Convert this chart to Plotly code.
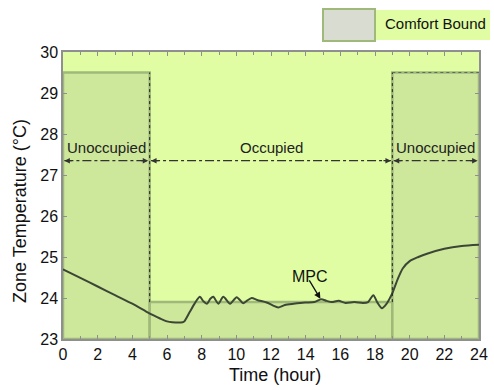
import plotly.graph_objects as go

# ---- data ----
time_h = [0, 1, 2, 3, 4, 4.8, 5.2, 5.6, 6.0, 6.3, 6.9, 7.0, 7.3, 7.6, 7.9,
          8.1, 8.3, 8.5, 8.67, 8.96, 9.25, 9.64, 10.02, 10.4, 10.6, 10.89,
          11.2, 11.75, 12.1, 12.42, 12.8, 13.3, 13.96, 14.5, 14.9, 15.2,
          15.5, 15.9, 16.3, 16.8, 17.3, 17.6, 17.9, 18.15, 18.4, 18.65,
          19.0, 19.3, 19.6, 20.0, 20.5, 21.0, 22.0, 23.0, 24.0]
temp_mpc = [24.70, 24.49, 24.28, 24.07, 23.86, 23.67, 23.58, 23.50, 23.43,
            23.41, 23.41, 23.43, 23.65, 23.87, 24.03,
            23.92, 23.86, 23.98, 24.03, 23.86, 24.03, 23.86, 24.02, 23.87,
            23.93, 24.00, 23.95, 23.89, 23.82, 23.77, 23.83, 23.86, 23.89,
            23.90, 23.97, 23.93, 23.90, 23.93, 23.88, 23.90, 23.88, 23.90,
            24.07, 23.88, 23.75, 23.85, 24.12, 24.45, 24.72, 24.90, 25.00,
            25.08, 25.20, 25.27, 25.30]

# comfort bound: (start hour, end hour, lower, upper)
bound_start = [0, 5, 19]
bound_end = [5, 19, 24]
bound_low = [23, 23, 23]
bound_high = [29.5, 23.9, 29.5]

# occupancy periods
period_start = [0, 5, 19]
period_end = [5, 19, 24]
period_label = ["Unoccupied", "Occupied", "Unoccupied"]
period_arrow_y = 27.35
period_text_y = 27.68

x_ticks = list(range(0, 25, 2))
y_ticks = list(range(23, 31))

PLOT_BG = "#e0fda3"
BOUND_FILL = "#cde79b"
BOUND_EDGE = "#9fb97a"
LINE_COL = "#3c4636"
FONT = "Liberation Sans, Arial, sans-serif"

fig = go.Figure()

shapes = []
for s, e, lo, hi in zip(bound_start, bound_end, bound_low, bound_high):
    shapes.append(dict(type="rect", xref="x", yref="y", x0=s, x1=e, y0=lo, y1=hi,
                       fillcolor=BOUND_FILL, line=dict(color=BOUND_EDGE, width=2.5),
                       layer="below"))
# dotted boundaries of the occupied period
shapes.append(dict(type="line", xref="x", yref="y", x0=5, x1=5, y0=bound_high[1], y1=bound_high[0],
                   line=dict(color="#222222", width=1, dash="dot")))
shapes.append(dict(type="line", xref="x", yref="y", x0=19, x1=19, y0=bound_high[1], y1=bound_high[2],
                   line=dict(color="#222222", width=1, dash="dot")))
shapes.append(dict(type="line", xref="x", yref="y", x0=19, x1=24, y0=bound_high[2], y1=bound_high[2],
                   line=dict(color="#666666", width=1, dash="dot")))

# MPC trace
fig.add_trace(go.Scatter(x=time_h, y=temp_mpc, mode="lines",
                         line=dict(color=LINE_COL, width=2, shape="spline", smoothing=0.7),
                         showlegend=False, hoverinfo="skip"))

annotations = []
# period arrows (dash-dot line + arrow heads)
for s, e, lab in zip(period_start, period_end, period_label):
    a0 = s + 0.08
    a1 = e - 0.08
    fig.add_trace(go.Scatter(x=[a0, a1], y=[period_arrow_y, period_arrow_y], mode="lines",
                             line=dict(color="#333333", width=1.2, dash="dashdot"),
                             showlegend=False, hoverinfo="skip"))
    annotations.append(dict(x=a1, y=period_arrow_y, ax=-9, ay=0, xref="x", yref="y",
                            text="", showarrow=True,
                            arrowhead=2, arrowsize=1, arrowwidth=1.1, arrowcolor="#333333"))
    annotations.append(dict(x=a0, y=period_arrow_y, ax=9, ay=0, xref="x", yref="y",
                            text="", showarrow=True,
                            arrowhead=2, arrowsize=1, arrowwidth=1.1, arrowcolor="#333333"))
    annotations.append(dict(x=(s + e) / 2, y=period_text_y, xref="x", yref="y", text=lab,
                            showarrow=False, xanchor="center", yanchor="middle",
                            font=dict(family=FONT, size=15, color="#222222")))

# MPC label
annotations.append(dict(x=14.85, y=23.98, xref="x", yref="y", ax=-12, ay=-20,
                        text="", showarrow=True, arrowhead=2, arrowsize=1,
                        arrowwidth=1.3, arrowcolor="#111111"))
annotations.append(dict(x=14.25, y=24.53, xref="x", yref="y", text="MPC", showarrow=False,
                        xanchor="center", yanchor="middle",
                        font=dict(family=FONT, size=16, color="#111111")))

# axis titles
annotations.append(dict(x=(275 - 63) / 416, y=(339 - 375) / 287, xref="paper", yref="paper",
                        text="Time (hour)", showarrow=False, xanchor="center", yanchor="middle",
                        font=dict(family=FONT, size=18, color="#111111")))
annotations.append(dict(x=(20 - 63) / 416, y=(339 - 211) / 287, xref="paper", yref="paper",
                        text="Zone Temperature (\u00b0C)", showarrow=False, textangle=-90,
                        xanchor="center", yanchor="middle",
                        font=dict(family=FONT, size=18, color="#111111")))

# legend (drawn box)
shapes.append(dict(type="rect", xref="paper", yref="paper",
                   x0=(375 - 63) / 416, x1=(490 - 63) / 416,
                   y0=(339 - 40) / 287, y1=(339 - 10) / 287,
                   fillcolor=PLOT_BG, line=dict(width=0)))
shapes.append(dict(type="rect", xref="paper", yref="paper",
                   x0=(323 - 63) / 416, x1=(375 - 63) / 416,
                   y0=(339 - 41) / 287, y1=(339 - 9) / 287,
                   fillcolor="#d9dcd0", line=dict(color=BOUND_EDGE, width=2)))
annotations.append(dict(x=(383 - 63) / 416, y=(339 - 24) / 287, xref="paper", yref="paper",
                        xanchor="left", yanchor="middle", text="Comfort Bound", showarrow=False,
                        font=dict(family=FONT, size=15, color="#111111")))

axis_common = dict(showgrid=False, zeroline=False, showline=True, linecolor="#8f8f8f",
                   linewidth=1.5, mirror="ticks", ticks="inside", ticklen=4,
                   automargin=False,
                   tickcolor="#8f8f8f", tickfont=dict(family=FONT, size=16, color="#111111"))

fig.update_layout(
    width=494, height=390,
    margin=dict(l=63, r=15, t=52, b=51),
    paper_bgcolor="white", plot_bgcolor=PLOT_BG,
    xaxis=dict(range=[0, 24], tickvals=x_ticks, ticktext=[str(v) for v in x_ticks],
               minor=dict(dtick=1, ticks="inside", ticklen=3, tickcolor="#8f8f8f"),
               **axis_common),
    yaxis=dict(range=[23, 30], tickvals=y_ticks, ticktext=[str(v) for v in y_ticks],
               **axis_common),
    shapes=shapes, annotations=annotations, showlegend=False,
)

fig.write_html("out.html", config={"displayModeBar": False},
               post_script="document.body.style.margin='0';document.body.style.padding='0';")
